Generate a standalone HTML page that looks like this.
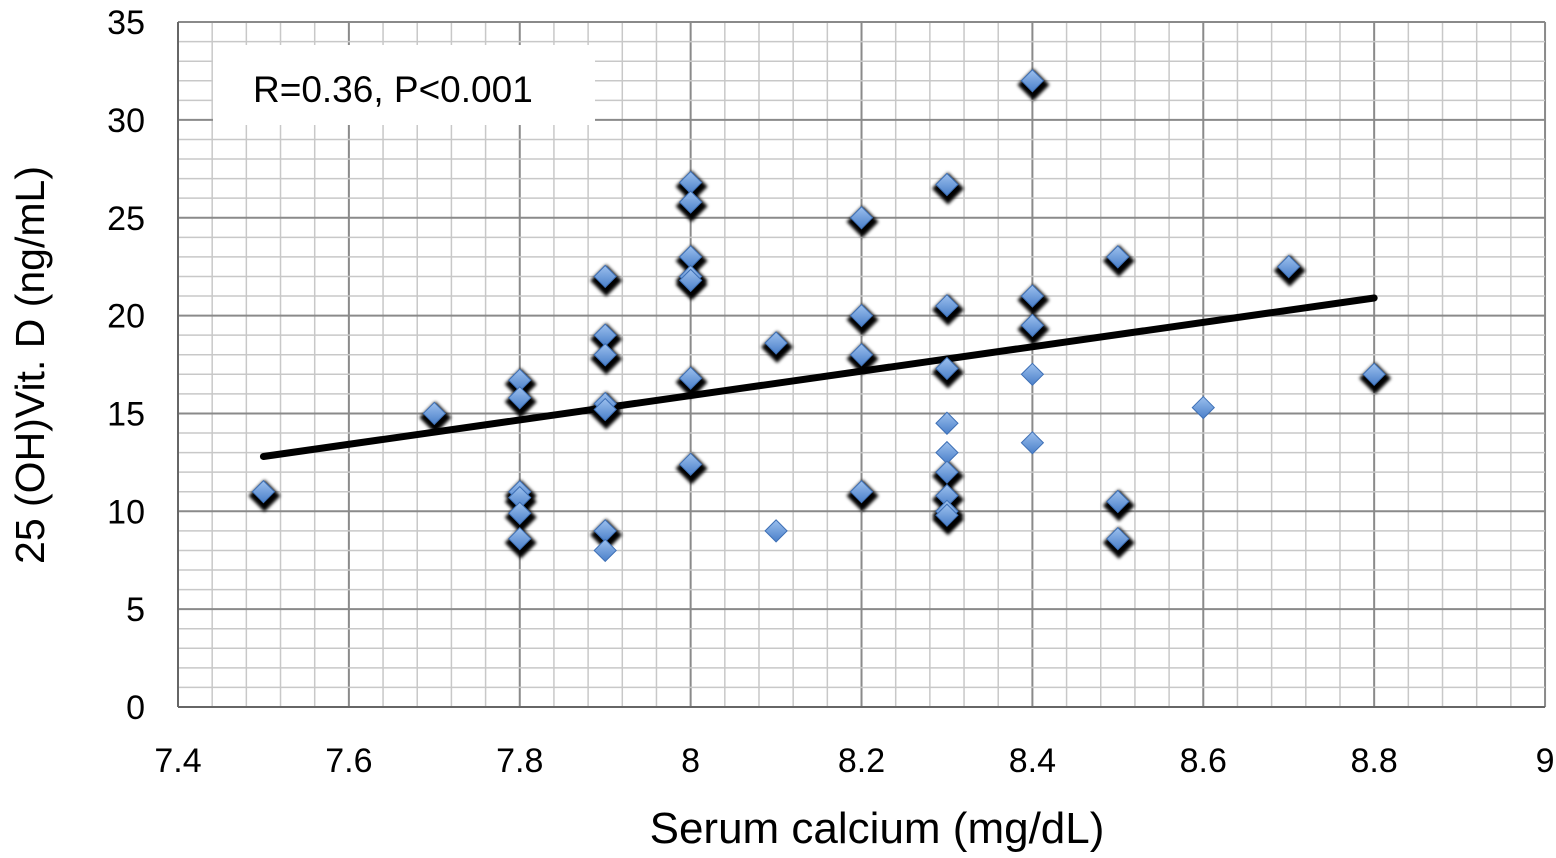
<!DOCTYPE html>
<html><head><meta charset="utf-8"><style>
body{margin:0;background:#fff;width:1556px;height:853px;overflow:hidden}
text{font-family:"Liberation Sans",Arial,sans-serif;fill:#000}
</style></head><body>
<svg id="c" width="1556" height="853">
<defs><filter id="sh" x="-50%" y="-50%" width="200%" height="200%"><feGaussianBlur stdDeviation="1.5"/></filter>
<linearGradient id="dg" x1="0" y1="0" x2="0" y2="1"><stop offset="0" stop-color="#9cc0ee"/><stop offset="1" stop-color="#4a7fc9"/></linearGradient></defs>
<g id="grid"></g><g id="axes"></g><g id="marks"></g>
<rect x="213" y="45" width="382" height="80" fill="#fff"/>
<text x="253" y="102" font-size="37">R=0.36, P&lt;0.001</text>
<text x="877" y="843" font-size="44" text-anchor="middle">Serum calcium (mg/dL)</text>
<text transform="translate(44,365) rotate(-90)" font-size="41" text-anchor="middle">25 (OH)Vit. D (ng/mL)</text>
</svg>
<script>
const xTicks=[7.4,7.6,7.8,8,8.2,8.4,8.6,8.8,9];
const yTicks=[0,5,10,15,20,25,30,35];
const xs=[7.5,7.7,7.8,7.8,7.8,7.8,7.8,7.8,7.9,7.9,7.9,7.9,7.9,7.9,7.9,8,8,8,8,8,8,8,8.1,8.1,8.2,8.2,8.2,8.2,8.3,8.3,8.3,8.3,8.3,8.3,8.3,8.3,8.3,8.4,8.4,8.4,8.4,8.4,8.5,8.5,8.5,8.6,8.7,8.8];
const ys=[11,15,16.7,15.8,11,10.7,9.9,8.6,22,19,18,15.5,15.2,9,8,26.8,25.8,23,22,21.8,16.8,12.4,18.6,9,25,20,18,11,26.7,20.5,17.3,14.5,13,12,10.8,10,9.8,32,21,19.5,17,13.5,23,10.5,8.6,15.3,22.5,17];
const shadowed=[1,1,1,1,1,1,1,1,1,1,1,1,1,1,0,1,1,1,1,1,1,1,1,0,1,1,1,1,1,1,1,0,0,1,1,1,1,1,1,1,0,0,1,1,1,0,1,1];
const trendX=[7.5,8.8], trendY=[12.8,20.9];
const X=v=>178+(v-7.4)*854.4, Y=v=>707-v*19.57;
const ns="http://www.w3.org/2000/svg";
function mk(t,a,p){const e=document.createElementNS(ns,t);for(const k in a)e.setAttribute(k,a[k]);p.appendChild(e);return e;}
const g=document.getElementById('grid'),ax=document.getElementById('axes'),m=document.getElementById('marks');
for(let i=0;i<=40;i++){const v=7.4+i*0.04;const l=mk('line',{x1:X(v),x2:X(v),y1:Y(0),y2:Y(35),stroke:i%5?'#c8c8c8':'#8a8a8a','stroke-width':i%5?1.5:2},g);

}
for(let i=0;i<=35;i++){const l=mk('line',{x1:X(7.4),x2:X(9),y1:Y(i),y2:Y(i),stroke:i%5?'#c8c8c8':'#8a8a8a','stroke-width':i%5?1.5:2},g);

}
mk('line',{x1:X(7.4),x2:X(9),y1:Y(0),y2:Y(0),stroke:'#666','stroke-width':2},ax);
mk('line',{x1:X(7.4),x2:X(7.4),y1:Y(0),y2:Y(35),stroke:'#666','stroke-width':2},ax);
xTicks.forEach(v=>{const t=mk('text',{x:X(v),y:772,'font-size':34,'text-anchor':'middle'},ax);t.textContent=String(v);

});
yTicks.forEach(v=>{const t=mk('text',{x:145,y:Y(v)+12,'font-size':34,'text-anchor':'end'},ax);t.textContent=String(v);

});
const d=(cx,cy,r)=>`M${cx},${cy-r}L${cx+r},${cy}L${cx},${cy+r}L${cx-r},${cy}Z`;
xs.forEach((v,i)=>{if(shadowed[i]){const s=mk('path',{d:d(X(v)+1,Y(ys[i])+4,16),fill:'#000',filter:'url(#sh)'},m);

}});
const tl=mk('line',{x1:X(trendX[0]),y1:Y(trendY[0]),x2:X(trendX[1]),y2:Y(trendY[1]),stroke:'#000','stroke-width':7,'stroke-linecap':'round'},m);


xs.forEach((v,i)=>{const p=mk('path',{d:d(X(v),Y(ys[i]),11),fill:'url(#dg)',stroke:'#3d6fb5','stroke-width':1},m);

});
</script>
</body></html>
